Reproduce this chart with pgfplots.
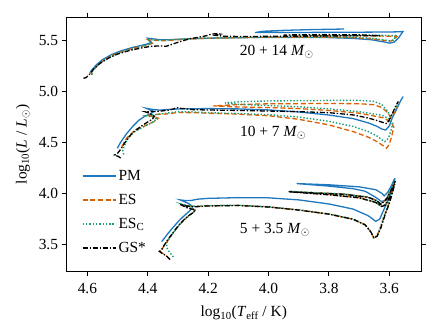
\documentclass[border=0pt]{standalone}
\usepackage{fontspec}
\setmainfont{Liberation Serif}
\usepackage{pgfplots}
\pgfplotsset{compat=1.18}
\definecolor{cPM}{RGB}{31,120,190}
\definecolor{cES}{RGB}{217,95,2}
\definecolor{cESC}{RGB}{27,158,119}
\tikzset{
 pm/.style={draw=cPM, line width=1.3bp, solid},
 es/.style={draw=cES, line width=1.3bp, dash pattern=on 5bp off 2.6bp},
 esc/.style={draw=cESC, line width=1.4bp, dash pattern=on 1.4bp off 1.9bp},
 gs/.style={draw=black, line width=1.3bp, dash pattern=on 5bp off 1.8bp on 1.4bp off 1.8bp},
}
\begin{document}
\begin{tikzpicture}
\begin{axis}[
 scale only axis, width=355bp, height=254.4bp,
 x dir=reverse, xmin=3.494, xmax=4.67, ymin=3.231, ymax=5.725,
 xtick={3.6,3.8,4.0,4.2,4.4,4.6},
 ytick={3.5,4.0,4.5,5.0,5.5},
 tick align=outside, major tick length=4.7bp,
 every tick/.style={black, line width=1bp},
 axis line style={line width=1.2bp},
 /pgf/number format/assume math mode=true,
 xticklabel style={/pgf/number format/fixed, /pgf/number format/fixed zerofill, /pgf/number format/precision=1, yshift=-3bp},
 yticklabel style={/pgf/number format/fixed, /pgf/number format/fixed zerofill, /pgf/number format/precision=1},
 tick label style={font=\fontsize{15.5}{18}\selectfont},
 label style={font=\fontsize{15.5}{18}\selectfont},
 xlabel style={yshift=-6bp},
 ylabel style={yshift=2bp},
 xlabel={log\textsubscript{10}(\textit{T}\textsubscript{eff} / K)},
 ylabel={log\textsubscript{10}(\textit{L} / \textit{L}\textsubscript{$\odot$})},
 legend style={draw=none, fill=none, at={(0.035,0.415)}, anchor=north west,
   font=\fontsize{15.5}{18}\selectfont, row sep=8.3bp},
 legend cell align=left,
 legend image code/.code={\draw[#1, line width=1.6bp] (0bp,0bp) -- (33bp,0bp);},
]
% ---------------- 20 + 14 ----------------
\addplot[pm] coordinates {(4.592,5.18)(4.585,5.21)(4.57,5.26)(4.55,5.31)(4.52,5.36)(4.49,5.395)(4.45,5.43)(4.42,5.45)(4.40,5.465)(4.388,5.48)(4.395,5.505)(4.40,5.52)(4.385,5.515)(4.36,5.505)(4.33,5.505)(4.3,5.51)(4.25,5.515)(4.2,5.52)(4.1,5.525)(4.0,5.528)(3.9,5.528)(3.8,5.526)(3.72,5.518)(3.66,5.505)(3.62,5.485)(3.60,5.472)(3.585,5.48)(3.57,5.52)(3.555,5.585)(3.58,5.582)(3.65,5.58)(3.75,5.578)(3.85,5.577)(3.95,5.576)(4.045,5.575)(4.02,5.588)(3.95,5.597)(3.85,5.605)(3.75,5.61)};
\addlegendentry{PM}
\addplot[es] coordinates {(4.585,5.16)(4.588,5.18)(4.582,5.20)(4.568,5.25)(4.548,5.30)(4.52,5.35)(4.49,5.385)(4.45,5.42)(4.42,5.44)(4.40,5.455)(4.385,5.47)(4.395,5.495)(4.40,5.505)(4.38,5.50)(4.35,5.495)(4.3,5.505)(4.25,5.515)(4.2,5.52)(4.1,5.525)(4.0,5.53)(3.9,5.53)(3.8,5.53)(3.72,5.525)(3.66,5.515)(3.62,5.50)(3.60,5.49)(3.585,5.50)(3.575,5.535)(3.60,5.54)(3.7,5.545)(3.8,5.545)(3.9,5.545)};
\addlegendentry{ES}
\addplot[esc] coordinates {(4.583,5.165)(4.586,5.19)(4.57,5.245)(4.55,5.295)(4.52,5.345)(4.49,5.38)(4.45,5.415)(4.42,5.44)(4.40,5.455)(4.388,5.47)(4.397,5.50)(4.40,5.51)(4.38,5.502)(4.35,5.50)(4.3,5.508)(4.25,5.517)(4.2,5.522)(4.1,5.527)(4.0,5.532)(3.9,5.533)(3.8,5.534)(3.72,5.53)(3.66,5.52)(3.62,5.505)(3.598,5.495)(3.585,5.505)(3.578,5.545)(3.62,5.548)(3.7,5.55)(3.8,5.55)(3.93,5.55)};
\addlegendentry{ES\textsubscript{C}}
\addplot[gs] coordinates {(4.613,5.127)(4.605,5.133)(4.595,5.16)(4.58,5.215)(4.56,5.27)(4.53,5.325)(4.50,5.365)(4.46,5.40)(4.42,5.425)(4.39,5.44)(4.36,5.445)(4.34,5.44)(4.32,5.46)(4.29,5.49)(4.26,5.515)(4.23,5.53)(4.205,5.545)(4.19,5.56)(4.17,5.565)(4.16,5.56)(4.175,5.548)(4.15,5.54)(4.1,5.537)(4.0,5.538)(3.9,5.54)(3.8,5.542)(3.7,5.545)(3.631,5.545)(3.7,5.553)(3.8,5.555)(3.95,5.552)};
\addlegendentry{GS*}
% ---------------- 10 + 7 ----------------
\addplot[pm, forget plot] coordinates {(4.501,4.441)(4.49,4.50)(4.47,4.585)(4.45,4.655)(4.43,4.715)(4.41,4.755)(4.39,4.78)(4.38,4.80)(4.395,4.82)(4.405,4.833)(4.385,4.822)(4.36,4.815)(4.33,4.822)(4.28,4.828)(4.2,4.83)(4.1,4.827)(4.0,4.817)(3.9,4.797)(3.8,4.767)(3.72,4.732)(3.67,4.69)(3.64,4.655)(3.625,4.63)(3.612,4.62)(3.60,4.66)(3.59,4.74)(3.575,4.83)(3.562,4.91)(3.554,4.948)};
\addplot[es, forget plot] coordinates {(4.486,4.457)(4.478,4.50)(4.47,4.54)(4.448,4.604)(4.415,4.653)(4.381,4.70)(4.365,4.735)(4.38,4.75)(4.403,4.763)(4.385,4.77)(4.36,4.775)(4.337,4.777)(4.30,4.792)(4.25,4.79)(4.2,4.785)(4.1,4.775)(4.0,4.76)(3.9,4.725)(3.8,4.67)(3.72,4.605)(3.67,4.55)(3.64,4.505)(3.62,4.465)(3.609,4.442)(3.60,4.48)(3.592,4.56)(3.585,4.65)(3.595,4.70)(3.62,4.74)(3.7,4.785)(3.8,4.812)(3.9,4.83)(4.0,4.84)(4.1,4.846)(4.183,4.856)(4.1,4.87)(4.0,4.877)(3.8,4.88)(3.7,4.878)(3.65,4.868)(3.625,4.84)(3.605,4.79)(3.595,4.74)(3.58,4.80)(3.572,4.86)};
\addplot[esc, forget plot] coordinates {(4.48,4.38)(4.483,4.42)(4.478,4.46)(4.468,4.53)(4.448,4.595)(4.415,4.65)(4.385,4.695)(4.37,4.73)(4.385,4.748)(4.405,4.76)(4.385,4.768)(4.35,4.78)(4.30,4.80)(4.25,4.797)(4.2,4.79)(4.1,4.782)(4.0,4.77)(3.9,4.747)(3.8,4.705)(3.72,4.655)(3.67,4.605)(3.64,4.56)(3.625,4.525)(3.615,4.506)(3.603,4.54)(3.594,4.62)(3.588,4.69)(3.60,4.73)(3.625,4.765)(3.7,4.80)(3.8,4.828)(3.9,4.848)(4.0,4.86)(4.1,4.872)(4.144,4.885)(4.1,4.897)(4.0,4.905)(3.8,4.91)(3.7,4.91)(3.65,4.9)(3.625,4.87)(3.607,4.81)(3.596,4.75)(3.582,4.82)(3.574,4.87)};
\addplot[gs, forget plot] coordinates {(4.49,4.345)(4.497,4.36)(4.51,4.375)(4.502,4.385)(4.49,4.43)(4.475,4.50)(4.46,4.56)(4.44,4.62)(4.42,4.66)(4.40,4.70)(4.385,4.725)(4.378,4.755)(4.395,4.785)(4.41,4.80)(4.39,4.80)(4.36,4.805)(4.33,4.815)(4.315,4.826)(4.305,4.84)(4.29,4.832)(4.25,4.82)(4.2,4.816)(4.1,4.812)(4.0,4.806)(3.9,4.80)(3.8,4.79)(3.72,4.768)(3.67,4.738)(3.64,4.712)(3.62,4.693)(3.608,4.682)(3.60,4.72)(3.59,4.78)(3.578,4.86)(3.57,4.90)};
% ---------------- 5 + 3.5 ----------------
\addplot[pm, forget plot] coordinates {(4.354,3.526)(4.345,3.56)(4.332,3.61)(4.315,3.67)(4.30,3.72)(4.283,3.77)(4.268,3.81)(4.255,3.845)(4.252,3.87)(4.265,3.90)(4.293,3.935)(4.275,3.928)(4.255,3.93)(4.238,3.941)(4.2,3.95)(4.1,3.957)(4.0,3.955)(3.9,3.935)(3.8,3.895)(3.72,3.845)(3.67,3.78)(3.645,3.725)(3.632,3.745)(3.615,3.86)(3.60,3.96)(3.588,4.07)(3.581,4.147)(3.595,4.02)(3.61,3.935)(3.625,3.918)(3.645,3.96)(3.68,4.02)(3.72,4.045)(3.8,4.07)(3.907,4.095)(3.8,4.083)(3.7,4.063)(3.645,4.035)(3.625,4.0)(3.617,3.974)(3.605,4.01)(3.592,4.08)(3.583,4.14)};
\addplot[es, forget plot] coordinates {(4.328,3.355)(4.34,3.39)(4.353,3.415)(4.36,3.435)(4.353,3.45)(4.346,3.485)(4.336,3.528)(4.323,3.583)(4.308,3.643)(4.293,3.698)(4.278,3.743)(4.263,3.783)(4.249,3.813)(4.242,3.838)(4.265,3.856)(4.29,3.892)(4.268,3.877)(4.24,3.87)(4.205,3.877)(4.1,3.881)(4.0,3.866)(3.9,3.836)(3.8,3.796)(3.72,3.745)(3.68,3.69)(3.662,3.624)(3.651,3.562)(3.641,3.58)(3.629,3.66)(3.616,3.78)(3.601,3.90)(3.591,4.0)(3.583,4.09)(3.598,3.97)(3.613,3.885)(3.626,3.872)(3.646,3.912)(3.7,3.957)(3.8,3.987)(3.932,4.017)(3.85,4.005)(3.75,3.992)(3.67,3.962)(3.641,3.927)(3.629,3.892)(3.611,3.94)(3.593,4.04)(3.581,4.12)};
\addplot[esc, forget plot] coordinates {(4.315,3.375)(4.322,3.40)(4.33,3.43)(4.338,3.47)(4.335,3.53)(4.322,3.585)(4.307,3.645)(4.292,3.70)(4.277,3.745)(4.262,3.785)(4.248,3.815)(4.241,3.84)(4.264,3.858)(4.289,3.894)(4.267,3.879)(4.24,3.872)(4.205,3.879)(4.1,3.883)(4.0,3.868)(3.9,3.838)(3.8,3.798)(3.72,3.747)(3.68,3.692)(3.663,3.626)(3.652,3.564)(3.642,3.582)(3.63,3.662)(3.617,3.782)(3.602,3.902)(3.592,4.002)(3.584,4.092)(3.599,3.972)(3.614,3.887)(3.627,3.874)(3.647,3.914)(3.7,3.959)(3.8,3.989)(3.93,4.019)(3.85,4.007)(3.75,3.994)(3.67,3.964)(3.642,3.929)(3.63,3.894)(3.612,3.942)(3.594,4.042)(3.582,4.122)};
\addplot[gs, forget plot] coordinates {(4.326,3.35)(4.338,3.385)(4.352,3.41)(4.362,3.43)(4.355,3.445)(4.348,3.48)(4.338,3.525)(4.325,3.58)(4.31,3.64)(4.295,3.695)(4.28,3.74)(4.265,3.78)(4.25,3.81)(4.243,3.836)(4.266,3.853)(4.293,3.89)(4.27,3.875)(4.24,3.868)(4.205,3.875)(4.1,3.88)(4.0,3.865)(3.9,3.835)(3.8,3.795)(3.72,3.745)(3.68,3.69)(3.662,3.625)(3.65,3.56)(3.64,3.58)(3.628,3.66)(3.615,3.78)(3.60,3.90)(3.59,4.0)(3.582,4.09)(3.597,3.97)(3.612,3.885)(3.625,3.87)(3.645,3.91)(3.7,3.955)(3.8,3.985)(3.934,4.015)(3.85,4.003)(3.75,3.99)(3.67,3.96)(3.64,3.925)(3.628,3.89)(3.61,3.94)(3.592,4.04)(3.58,4.12)};
% labels
\node[font=\fontsize{15.5}{18}\selectfont] at (axis cs:3.973,5.385) {20 + 14 \textit{M}\textsubscript{$\odot$}};
\node[font=\fontsize{15.5}{18}\selectfont] at (axis cs:3.985,4.59) {10 + 7 \textit{M}\textsubscript{$\odot$}};
\node[font=\fontsize{15.5}{18}\selectfont] at (axis cs:3.979,3.645) {5 + 3.5 \textit{M}\textsubscript{$\odot$}};
\end{axis}
\path ([xshift=-66.3bp,yshift=-61.3bp]current axis.south west) rectangle ([xshift=17.7bp,yshift=17.3bp]current axis.north east);
\end{tikzpicture}
\end{document}
